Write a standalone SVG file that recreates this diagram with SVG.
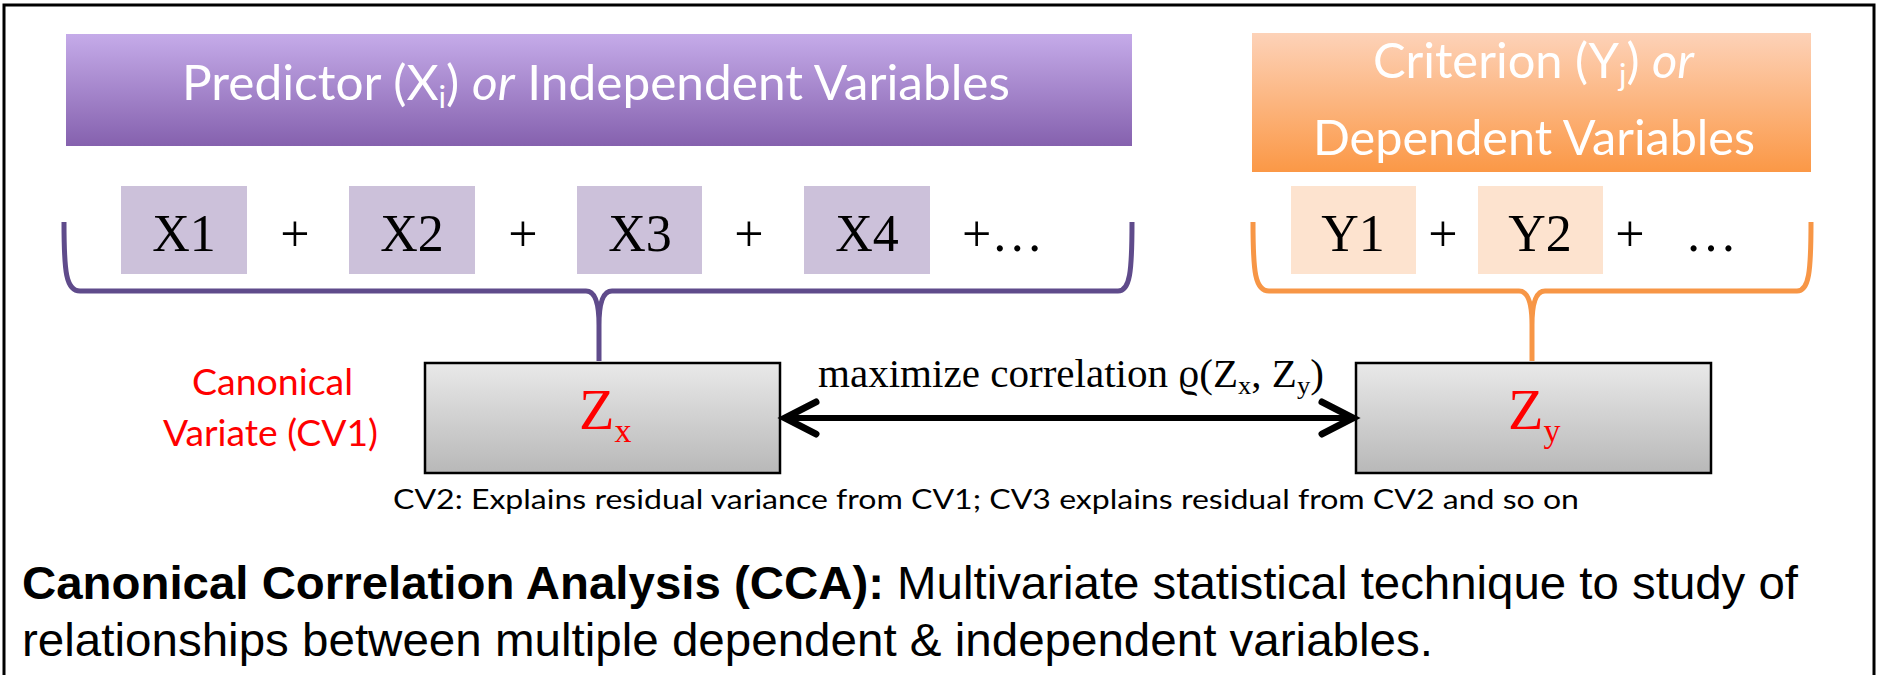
<svg xmlns="http://www.w3.org/2000/svg" width="1877" height="675" viewBox="0 0 1877 675">
<defs>
<linearGradient id="gPurple" x1="0" y1="0" x2="0" y2="1"><stop offset="0" stop-color="#c5abe9"/><stop offset="1" stop-color="#8561ae"/></linearGradient>
<linearGradient id="gOrange" x1="0" y1="0" x2="0" y2="1"><stop offset="0" stop-color="#fdd2b8"/><stop offset="1" stop-color="#fb9846"/></linearGradient>
<linearGradient id="gGray" x1="0" y1="0" x2="0" y2="1"><stop offset="0" stop-color="#e9e9e9"/><stop offset="1" stop-color="#b8b8b8"/></linearGradient>
<marker id="chev" markerUnits="userSpaceOnUse" viewBox="0 0 40 40" markerWidth="40" markerHeight="40" refX="29" refY="20" orient="auto-start-reverse" overflow="visible">
<path d="M3,4 L34,20 L3,36" fill="none" stroke="#000" stroke-width="7" stroke-linecap="round" stroke-linejoin="miter"/>
</marker>
<style>
.cal{font-family:Lato,"Open Sans","Noto Sans",sans-serif;}
.ban{fill:#fff;font-size:49px;}
.tim{font-family:"Liberation Serif","Times New Roman",serif;fill:#000;}
.xb{fill:#ccc1da;}
.yb{fill:#fde3cf;}
.var{font-size:52px;text-anchor:middle;}
.zb{fill:url(#gGray);stroke:#000;stroke-width:2.5;}
.zl{fill:#ff0000;font-size:58px;}
.red{fill:#ff0000;font-size:37px;}
.arial{font-family:"Liberation Sans",Arial,Helvetica,sans-serif;fill:#000;font-size:46px;}
</style>
</defs>
<rect x="4" y="5" width="1870" height="720" fill="#fff" stroke="#000" stroke-width="3"/>

<g id="predictor-banner">
<rect x="66" y="34" width="1066" height="112" fill="url(#gPurple)"/>
<text class="cal ban" x="182" y="100" textLength="828" lengthAdjust="spacingAndGlyphs">Predictor (X<tspan font-size="31" dy="8">i</tspan><tspan dy="-8">) </tspan><tspan font-style="italic">or</tspan> Independent Variables</text>
</g>

<g id="criterion-banner">
<rect x="1252" y="33" width="559" height="139" fill="url(#gOrange)"/>
<text class="cal ban" x="1373" y="78" textLength="321" lengthAdjust="spacingAndGlyphs">Criterion (Y<tspan font-size="31" dy="8">j</tspan><tspan dy="-8">) </tspan><tspan font-style="italic">or</tspan></text>
<text class="cal ban" x="1313" y="155" textLength="442" lengthAdjust="spacingAndGlyphs">Dependent Variables</text>
</g>

<g id="x-vars">
<rect class="xb" x="121" y="186" width="126" height="88"/>
<rect class="xb" x="349" y="186" width="126" height="88"/>
<rect class="xb" x="577" y="186" width="125" height="88"/>
<rect class="xb" x="804" y="186" width="126" height="88"/>
<text class="tim var" x="184" y="251">X1</text>
<text class="tim var" x="412" y="251">X2</text>
<text class="tim var" x="640" y="251">X3</text>
<text class="tim var" x="867" y="251">X4</text>
<text class="tim var" x="295" y="251">+</text>
<text class="tim var" x="523" y="251">+</text>
<text class="tim var" x="749" y="251">+</text>
<text class="tim" x="962" y="251" font-size="52">+…</text>
</g>

<g id="y-vars">
<rect class="yb" x="1291" y="186" width="125" height="88"/>
<rect class="yb" x="1478" y="186" width="125" height="88"/>
<text class="tim var" x="1353" y="251">Y1</text>
<text class="tim var" x="1540" y="251">Y2</text>
<text class="tim var" x="1443" y="251">+</text>
<text class="tim var" x="1630" y="251">+</text>
<text class="tim var" x="1711" y="251">…</text>
</g>

<g id="zx">
<rect class="zb" x="425" y="363" width="355" height="110"/>
<text class="tim zl" x="579" y="429">Z<tspan font-size="34" dy="13">x</tspan></text>
</g>

<g id="zy">
<rect class="zb" x="1356" y="363" width="355" height="110"/>
<text class="tim zl" x="1508" y="429">Z<tspan font-size="34" dy="13">y</tspan></text>
</g>

<g id="cv-label">
<text class="cal red" x="192" y="395" textLength="161" lengthAdjust="spacingAndGlyphs">Canonical</text>
<text class="cal red" x="163" y="446" textLength="215" lengthAdjust="spacingAndGlyphs">Variate (CV1)</text>
</g>

<g id="connectors">
<path d="M64,222 C64,272 66,291 80,291 L586,291 C596,291 599,305 599,325 L599,361 M599,325 C599,305 602,291 612,291 L1118,291 C1130,291 1132,272 1132,222" fill="none" stroke="#5f4b8b" stroke-width="5"/>
<path d="M1253,222 C1253,272 1255,291 1269,291 L1519,291 C1529,291 1532,305 1532,325 L1532,361 M1532,325 C1532,305 1535,291 1545,291 L1797,291 C1809,291 1811,272 1811,222" fill="none" stroke="#f79646" stroke-width="5"/>
<line x1="790" y1="418" x2="1348" y2="418" stroke="#000" stroke-width="6" marker-start="url(#chev)" marker-end="url(#chev)"/>
<text class="tim" x="818" y="387" font-size="40" textLength="506" lengthAdjust="spacingAndGlyphs">maximize correlation ϱ(Z<tspan font-size="26" dy="7">x</tspan><tspan dy="-7">, Z</tspan><tspan font-size="26" dy="7">y</tspan><tspan dy="-7">)</tspan></text>
</g>

<text class="cal" x="393" y="509" font-size="27" fill="#000" textLength="1186" lengthAdjust="spacingAndGlyphs">CV2: Explains residual variance from CV1; CV3 explains residual from CV2 and so on</text>

<text class="arial" x="22" y="599" textLength="1776" lengthAdjust="spacingAndGlyphs"><tspan font-weight="bold">Canonical Correlation Analysis (CCA):</tspan> Multivariate statistical technique to study of</text>
<text class="arial" x="22" y="656" textLength="1411" lengthAdjust="spacingAndGlyphs">relationships between multiple dependent &amp; independent variables.</text>
</svg>
